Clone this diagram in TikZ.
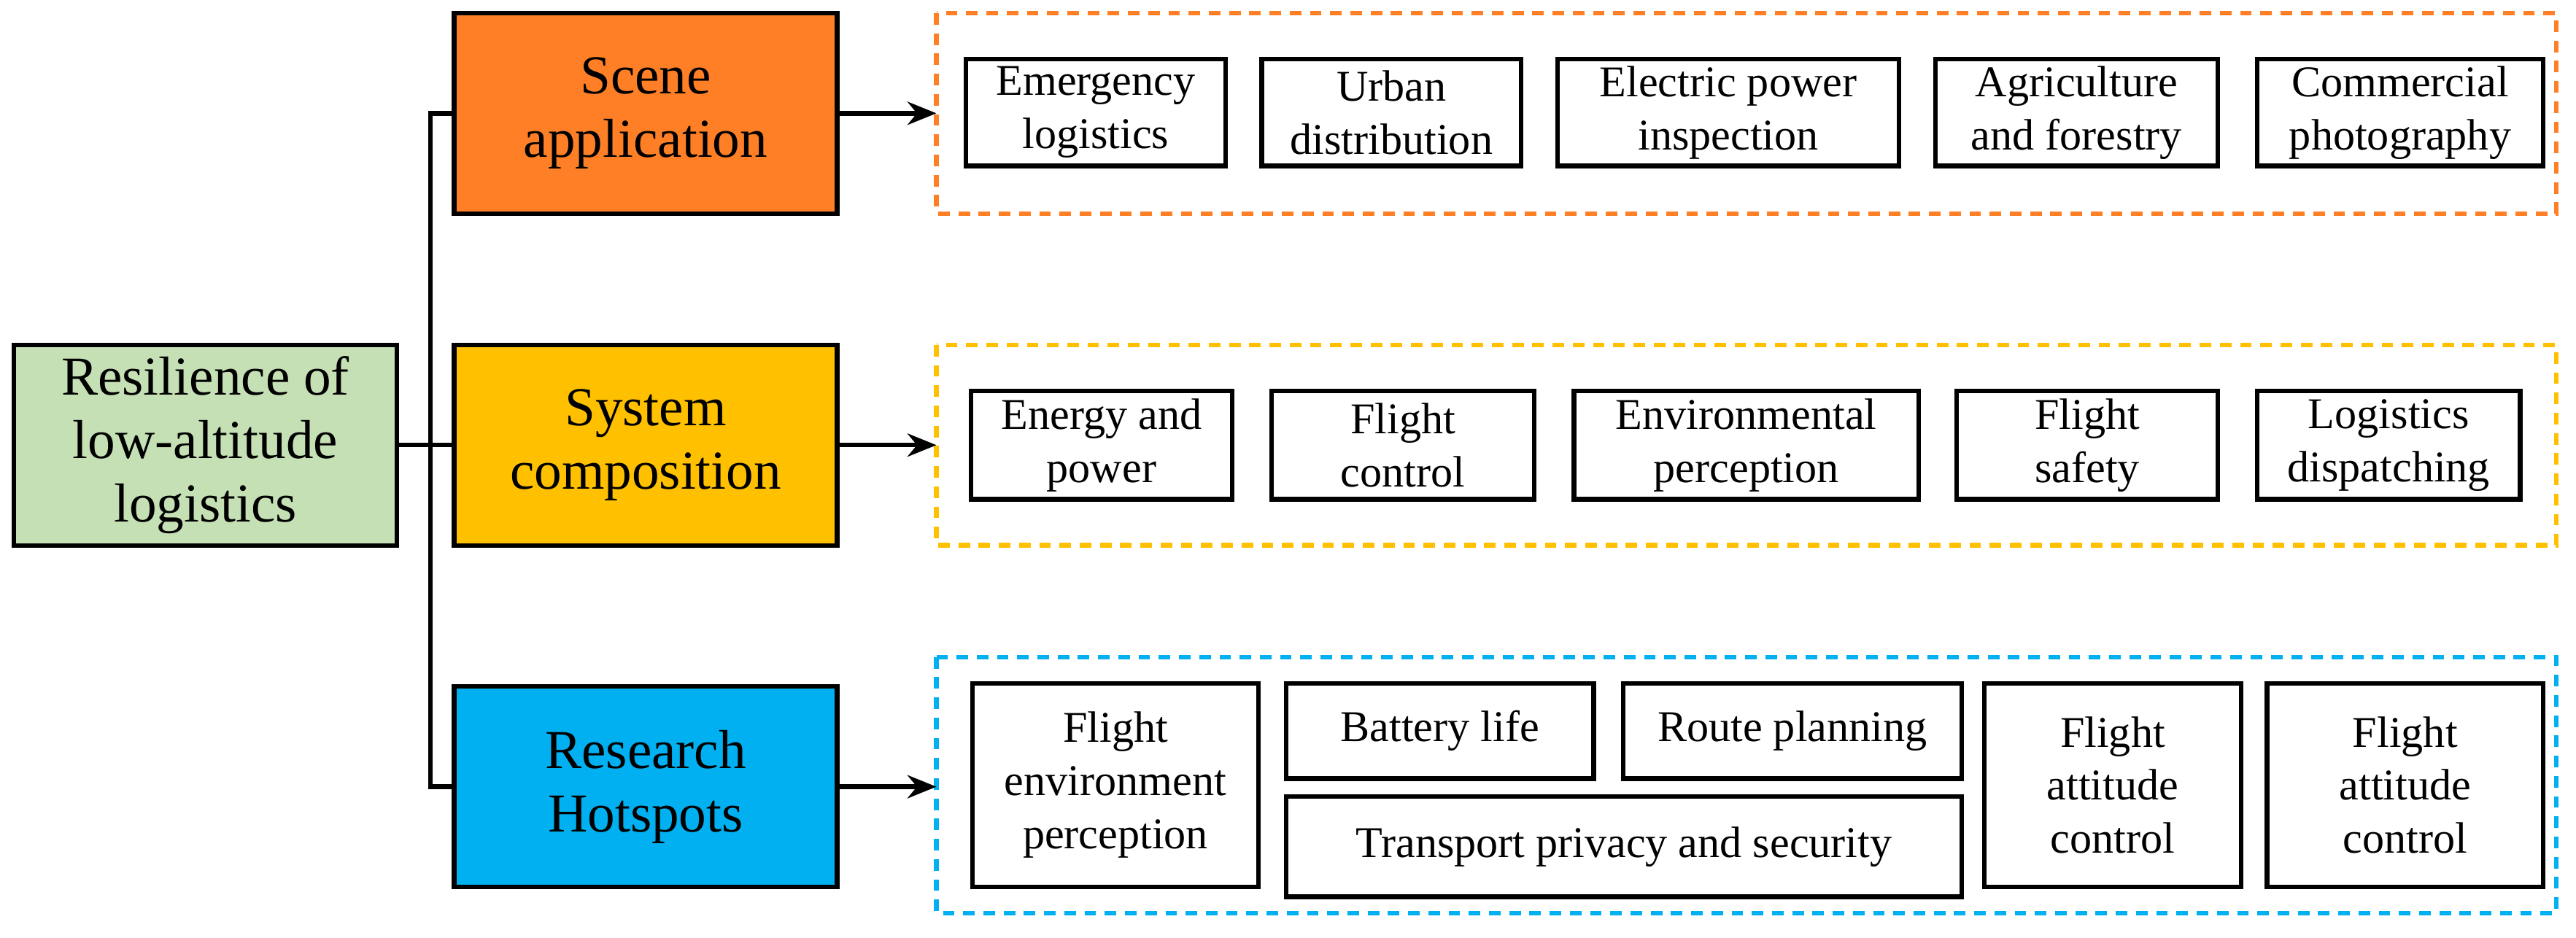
\documentclass[tikz,border=0pt]{standalone}
\usepackage{fontspec}
\setmainfont{Liberation Serif}
\usetikzlibrary{arrows.meta}
\definecolor{cscene}{HTML}{FF7F27}
\definecolor{csys}{HTML}{FFC000}
\definecolor{cres}{HTML}{00B0F0}
\definecolor{croot}{HTML}{C5E0B4}
\tikzset{
  main/.style={draw,thick,minimum width=2.33cm,minimum height=1.22cm,align=center,font=\fontsize{9.5}{11}\selectfont,inner sep=1pt},
  leaf/.style={draw,thick,align=center,font=\fontsize{7.6}{9.2}\selectfont,inner sep=1pt},
  group/.style={draw,thick,dash pattern=on 2pt off 1.5pt},
  link/.style={-{Stealth[length=5pt,width=4pt]},thick}
}
\begin{document}
\begin{tikzpicture}[x=0.01cm,y=-0.01cm]
\useasboundingbox (0,0) rectangle (1568,571);
% root and branches
\node (root) [main,fill=croot] at (125,271) {Resilience of\\low-altitude\\logistics};
\node (scene) [main,fill=cscene] at (393,69) {Scene\\application};
\node (sys) [main,fill=csys] at (393,271) {System\\composition};
\node (res) [main,fill=cres] at (393,479) {Research\\Hotspots};
\coordinate (fork) at (262,271);
\draw[thick] (root) -- (sys);
\draw[thick] (scene.west) -| (fork) |- (res.west);
% groups
\draw[group,cscene] (570,8) rectangle (1556,130);
\draw[group,csys] (570,210) rectangle (1556,332);
\draw[group,cres] (570,400) rectangle (1556,556);
\coordinate (g1) at (570,69);
\coordinate (g2) at (570,271);
\coordinate (g3) at (570,479);
\draw[link] (scene) -- (g1);
\draw[link] (sys) -- (g2);
\draw[link] (res) -- (g3);
% scene application
\foreach \name/\xa/\xb/\txt in {
  s1/588/746/{Emergency\\logistics},
  s2/768/926/{Urban\\distribution},
  s3/948/1156/{Electric power\\inspection},
  s4/1178/1350/{Agriculture\\and forestry},
  s5/1374/1548/{Commercial\\photography}}
  \node (\name) [leaf,minimum width={(\xb-\xa)*0.01cm},minimum height=0.65cm] at ({(\xa+\xb)/2},68.5) {\txt};
% system composition
\foreach \name/\xa/\xb/\txt in {
  c1/591/750/{Energy and\\power},
  c2/774/934/{Flight\\control},
  c3/958/1168/{Environmental\\perception},
  c4/1191/1350/{Flight\\safety},
  c5/1374/1534/{Logistics\\dispatching}}
  \node (\name) [leaf,minimum width={(\xb-\xa)*0.01cm},minimum height=0.66cm] at ({(\xa+\xb)/2},271) {\txt};
% research hotspots
\node (r1) [leaf,minimum width=1.74cm,minimum height=1.24cm] at (679,478) {Flight\\environment\\perception};
\node (r2) [leaf,minimum width=1.87cm,minimum height=0.58cm] at (876.5,445) {Battery life};
\node (r3) [leaf,minimum width=2.06cm,minimum height=0.58cm] at (1091,445) {Route planning};
\node (r4) [leaf,minimum width=4.11cm,minimum height=0.61cm] at (988.5,515.5) {Transport privacy and security};
\node (r5) [leaf,minimum width=1.56cm,minimum height=1.24cm] at (1286,478) {Flight\\attitude\\control};
\node (r6) [leaf,minimum width=1.68cm,minimum height=1.24cm] at (1464,478) {Flight\\attitude\\control};
\end{tikzpicture}
\end{document}
